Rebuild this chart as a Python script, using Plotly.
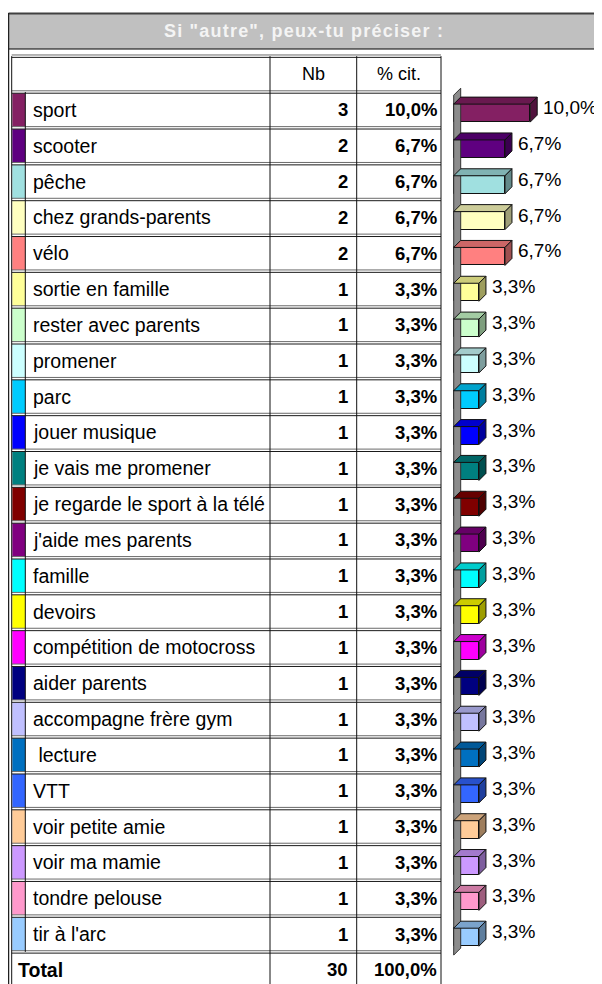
import plotly.graph_objects as go

# ---------------- data ----------------
title_text = 'Si "autre", peux-tu préciser :'
header_labels = ["Nb", "% cit."]
categories = [
    "sport", "scooter", "pêche", "chez grands-parents", "vélo",
    "sortie en famille", "rester avec parents", "promener", "parc",
    "jouer musique", "je vais me promener", "je regarde le sport à la télé",
    "j'aide mes parents", "famille", "devoirs", "compétition de motocross",
    "aider parents", "accompagne frère gym", " lecture", "VTT",
    "voir petite amie", "voir ma mamie", "tondre pelouse", "tir à l'arc",
]
nb_values = [3, 2, 2, 2, 2, 1, 1, 1, 1, 1, 1, 1, 1, 1, 1, 1, 1, 1, 1, 1, 1, 1, 1, 1]
pct_values = [10.0, 6.7, 6.7, 6.7, 6.7, 3.3, 3.3, 3.3, 3.3, 3.3, 3.3, 3.3,
              3.3, 3.3, 3.3, 3.3, 3.3, 3.3, 3.3, 3.3, 3.3, 3.3, 3.3, 3.3]
total_label = "Total"
total_nb = 30
total_pct = 100.0
colors = [
    "#842063", "#5F0080", "#A0E0E0", "#FFFFC0", "#FF8080",
    "#FFFF99", "#CCFFCC", "#CCFFFF", "#00CCFF", "#0000FF",
    "#008080", "#800000", "#800080", "#00FFFF", "#FFFF00",
    "#FF00FF", "#000080", "#C0C0FF", "#0070C0", "#3366FF",
    "#FFCC99", "#CC99FF", "#FF99CC", "#99CCFF",
]

# ---------------- layout constants (page pixels) ----------------
PAGE_W, PAGE_H = 602, 984
OFF = 8                     # default body margin of the html page
W, H = PAGE_W - OFF, PAGE_H - OFF
ROW_TOP = 92.0      # top of first data row
PITCH = 35.83       # row height
X_FRAME = 8.5
X_TLEFT = 11.7
X_SWATCH = 25.3
X_COL1 = 270.0
X_COL2 = 356.7
X_TRIGHT = 441.0
X_ZERO = 453.7      # bar axis zero
PX_PER_PCT = 7.65
DEPTH = 7.0
FONT = "Liberation Sans, Arial, sans-serif"


def v(py):
    return (py - ROW_TOP) / PITCH - 0.5


def px_x(px):
    return (px - OFF) / W


def px_y(py):
    return 1 - (py - OFF) / H


def fmt(p):
    return f"{p:.1f}".replace(".", ",") + "%"


def darker(hx, f):
    r, g, b = int(hx[1:3], 16), int(hx[3:5], 16), int(hx[5:7], 16)
    return "#%02X%02X%02X" % (int(r * f), int(g * f), int(b * f))


n = len(categories)
rows = list(range(n))
shift = 3.2 / PITCH
bh = 18.0 / PITCH
dx = DEPTH / PX_PER_PCT
dy = DEPTH / PITCH

fig = go.Figure()

# wall of the 3D bar chart
wt, wb = -0.5 + shift, (n - 0.5) + shift
fig.add_trace(go.Scatter(
    x=[0, dx, dx, 0, 0], y=[wt, wt - dy, wb - dy, wb, wt],
    mode="lines", fill="toself", fillcolor="#8C8C8C",
    line=dict(color="#333333", width=1),
    xaxis="x2", yaxis="y", hoverinfo="skip"))

# front faces
fig.add_trace(go.Bar(
    x=pct_values, y=rows, base=0, orientation="h",
    width=bh, offset=shift - bh / 2,
    marker=dict(color=colors, line=dict(color="#111111", width=1)),
    xaxis="x2", yaxis="y", hoverinfo="skip"))

# top and side faces
for i, (p, c) in enumerate(zip(pct_values, colors)):
    t = i + shift - bh / 2
    b = i + shift + bh / 2
    fig.add_trace(go.Scatter(
        x=[0, p, p + dx, dx, 0], y=[t, t, t - dy, t - dy, t],
        mode="lines", fill="toself", fillcolor=darker(c, 0.8),
        line=dict(color="#111111", width=1),
        xaxis="x2", yaxis="y", hoverinfo="skip"))
    fig.add_trace(go.Scatter(
        x=[p, p, p + dx, p + dx, p], y=[t, b, b - dy, t - dy, t],
        mode="lines", fill="toself", fillcolor=darker(c, 0.62),
        line=dict(color="#111111", width=1),
        xaxis="x2", yaxis="y", hoverinfo="skip"))

annotations = []
shapes = []

# bar value labels
for i, p in enumerate(pct_values):
    annotations.append(dict(
        x=p + dx, y=i + shift, xref="x2", yref="y", text=fmt(p),
        xanchor="left", yanchor="middle", xshift=4, yshift=5.5,
        showarrow=False, font=dict(family=FONT, size=19, color="#000000")))

# ---------------- title band and frame ----------------
shapes.append(dict(type="rect", xref="paper", yref="paper",
                   x0=px_x(X_FRAME), x1=1.0, y0=px_y(49), y1=px_y(13),
                   fillcolor="#C0C0C0", line=dict(width=0), layer="below"))
shapes.append(dict(type="line", xref="paper", yref="paper",
                   x0=px_x(X_FRAME), x1=1.0, y0=px_y(13.5), y1=px_y(13.5),
                   line=dict(color="#404040", width=2)))
shapes.append(dict(type="line", xref="paper", yref="paper",
                   x0=px_x(X_FRAME), x1=1.0, y0=px_y(49), y1=px_y(49),
                   line=dict(color="#000000", width=1)))
shapes.append(dict(type="line", xref="paper", yref="paper",
                   x0=px_x(X_FRAME), x1=px_x(X_FRAME), y0=0, y1=px_y(13),
                   line=dict(color="#202020", width=1.5)))
annotations.append(dict(
    x=px_x(304), y=px_y(31.5), xref="paper", yref="paper",
    text='<b><span style="letter-spacing:1.2px">' + title_text + '</span></b>',
    showarrow=False, xanchor="center", yanchor="middle",
    font=dict(family=FONT, size=18, color="#F4F4F4")))

# ---------------- table ----------------
# swatches
for i, c in enumerate(colors):
    shapes.append(dict(type="rect", xref="x", yref="y",
                       x0=X_TLEFT + 0.6, x1=X_SWATCH, y0=i - 0.5 + 0.035, y1=i + 0.5 - 0.035,
                       fillcolor=c, line=dict(width=0), layer="below"))

# horizontal double lines
gap = 1.2 / PITCH
for k in range(-1, n + 2):
    yb = k - 0.5
    shapes.append(dict(type="line", xref="x", yref="y",
                       x0=X_TLEFT, x1=X_TRIGHT, y0=yb - gap, y1=yb - gap,
                       line=dict(color="#6A6A6A", width=1)))
    shapes.append(dict(type="line", xref="x", yref="y",
                       x0=X_TLEFT, x1=X_TRIGHT, y0=yb + gap, y1=yb + gap,
                       line=dict(color="#1A1A1A", width=1)))

# vertical lines
y_head_top = -1.5
y_bottom = n + 1.5
for xv in (X_TLEFT, X_COL1, X_COL2, X_TRIGHT):
    shapes.append(dict(type="line", xref="x", yref="y",
                       x0=xv, x1=xv, y0=y_head_top, y1=y_bottom,
                       line=dict(color="#111111", width=1)))
shapes.append(dict(type="line", xref="x", yref="y",
                   x0=X_SWATCH, x1=X_SWATCH, y0=-0.5, y1=n - 0.5,
                   line=dict(color="#111111", width=1)))

# header labels
annotations.append(dict(x=(X_COL1 + X_COL2) / 2, y=-1, xref="x", yref="y",
                        text=header_labels[0], showarrow=False,
                        xanchor="center", yanchor="middle",
                        font=dict(family=FONT, size=18, color="#000000")))
annotations.append(dict(x=(X_COL2 + X_TRIGHT) / 2, y=-1, xref="x", yref="y",
                        text=header_labels[1], showarrow=False,
                        xanchor="center", yanchor="middle",
                        font=dict(family=FONT, size=18, color="#000000")))

for i, (name, nbv, p) in enumerate(zip(categories, nb_values, pct_values)):
    label = name.replace(" ", "\u00a0") if name.startswith(" ") else name
    annotations.append(dict(x=31.0, y=i, xref="x", yref="y", text=label,
                            showarrow=False, xanchor="left", yanchor="middle",
                            font=dict(family=FONT, size=19.5, color="#000000")))
    annotations.append(dict(x=350.0, y=i, xref="x", yref="y", text=f"<b>{nbv}</b>",
                            showarrow=False, xanchor="right", yanchor="middle",
                            font=dict(family=FONT, size=18.5, color="#000000")))
    annotations.append(dict(x=438.5, y=i, xref="x", yref="y", text=f"<b>{fmt(p)}</b>",
                            showarrow=False, xanchor="right", yanchor="middle",
                            font=dict(family=FONT, size=18.5, color="#000000")))

# total row
annotations.append(dict(x=15.5, y=n, xref="x", yref="y", text=f"<b>{total_label}</b>",
                        showarrow=False, xanchor="left", yanchor="middle",
                        font=dict(family=FONT, size=19.5, color="#000000")))
annotations.append(dict(x=350.0, y=n, xref="x", yref="y", text=f"<b>{total_nb}</b>",
                        showarrow=False, xanchor="right", yanchor="middle",
                        font=dict(family=FONT, size=18.5, color="#000000")))
annotations.append(dict(x=438.5, y=n, xref="x", yref="y", text=f"<b>{fmt(total_pct)}</b>",
                        showarrow=False, xanchor="right", yanchor="middle",
                        font=dict(family=FONT, size=18.5, color="#000000")))

fig.update_layout(
    width=W, height=H, autosize=False,
    margin=dict(l=0, r=0, t=0, b=0, pad=0),
    paper_bgcolor="white", plot_bgcolor="white",
    showlegend=False, bargap=0,
    xaxis=dict(range=[OFF, PAGE_W], domain=[0, 1], visible=False, fixedrange=True),
    xaxis2=dict(range=[(OFF - X_ZERO) / PX_PER_PCT, (PAGE_W - X_ZERO) / PX_PER_PCT],
                overlaying="x", anchor="y", visible=False, fixedrange=True),
    yaxis=dict(range=[v(PAGE_H), v(OFF)], domain=[0, 1], visible=False, fixedrange=True),
    shapes=shapes, annotations=annotations,
)

fig.write_html("out.html")
